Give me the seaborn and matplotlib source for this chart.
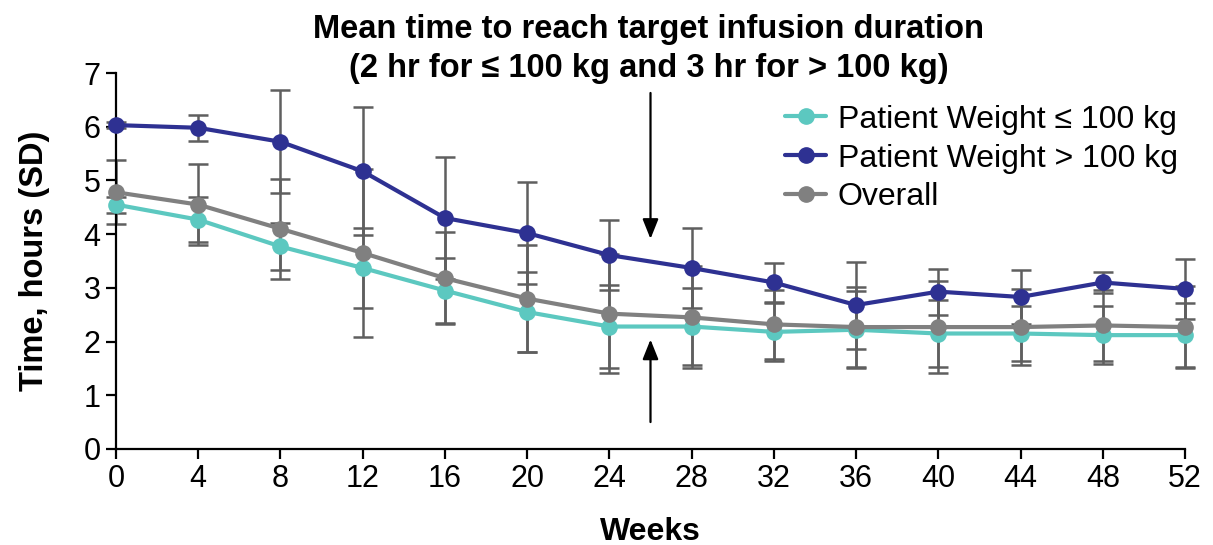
import numpy as np
import pandas as pd
import matplotlib
matplotlib.use("Agg")
import matplotlib.pyplot as plt
import seaborn as sns
from matplotlib.lines import Line2D

weeks = [0, 4, 8, 12, 16, 20, 24, 28, 32, 36, 40, 44, 48, 52]
series_names = ["Patient Weight \u2264 100 kg", "Patient Weight > 100 kg", "Overall"]
le100_mean = [4.55, 4.27, 3.77, 3.37, 2.95, 2.55, 2.28, 2.28, 2.18, 2.22, 2.15, 2.15, 2.12, 2.12]
le100_sd   = [0.15, 0.42, 0.44, 0.74, 0.60, 0.75, 0.78, 0.72, 0.54, 0.72, 0.62, 0.52, 0.54, 0.60]
gt100_mean = [6.03, 5.98, 5.72, 5.17, 4.30, 4.02, 3.61, 3.37, 3.10, 2.68, 2.93, 2.83, 3.10, 2.98]
gt100_sd   = [0.05, 0.24, 0.96, 1.19, 1.14, 0.95, 0.65, 0.75, 0.37, 0.81, 0.43, 0.51, 0.19, 0.56]
overall_mean = [4.78, 4.55, 4.10, 3.65, 3.18, 2.80, 2.52, 2.45, 2.32, 2.27, 2.27, 2.27, 2.30, 2.27]
overall_sd   = [0.60, 0.75, 0.93, 1.56, 0.86, 1.00, 1.11, 0.95, 0.64, 0.74, 0.85, 0.71, 0.66, 0.76]

title = "Mean time to reach target infusion duration\n(2 hr for \u2264 100 kg and 3 hr for > 100 kg)"
ylabel = "Time, hours (SD)"
xlabel = "Weeks"
arrow_week = 26
arrow_down = (6.68, 3.86)   # tail, head
arrow_up = (0.45, 2.09)

colors = {series_names[0]: "#5cc8c0", series_names[1]: "#2e3192", series_names[2]: "#808080"}

means = [le100_mean, gt100_mean, overall_mean]
sds = [le100_sd, gt100_sd, overall_sd]
df = pd.concat([
    pd.DataFrame({"week": weeks, "mean": m, "sd": s, "series": n})
    for n, m, s in zip(series_names, means, sds)
], ignore_index=True)

sns.set_theme(style="ticks")
plt.rcParams["font.family"] = ["Liberation Sans", "DejaVu Sans"]
plt.rcParams["text.color"] = "black"
plt.rcParams["axes.labelcolor"] = "black"
plt.rcParams["xtick.color"] = "black"
plt.rcParams["ytick.color"] = "black"

fig = plt.figure(figsize=(12.13, 5.45), dpi=100)
ax = fig.add_axes([116/1213, 1-449/545, (1185-116)/1213, (449-73)/545])

for name in series_names:
    sub = df[df["series"] == name]
    ax.errorbar(sub["week"], sub["mean"], yerr=sub["sd"], fmt="none",
                ecolor="#5f5f5f", elinewidth=1.8, capsize=7, capthick=1.8,
                zorder=2, clip_on=False)

sns.lineplot(data=df, x="week", y="mean", hue="series", hue_order=series_names,
             palette=colors, marker="o", markersize=12, markeredgewidth=0,
             linewidth=3, ax=ax, legend=False, zorder=3, clip_on=False)
for ln in ax.lines:
    ln.set_clip_on(False)

ax.set_xlim(0, 52)
ax.set_ylim(0, 7)
ax.set_xticks(weeks)
ax.set_yticks(range(0, 8))
ax.tick_params(axis="both", labelsize=22, length=7, width=1.6, color="black",
               labelcolor="black", pad=4)
for sp in ["top", "right"]:
    ax.spines[sp].set_visible(False)
for sp in ["left", "bottom"]:
    ax.spines[sp].set_linewidth(1.6)
    ax.spines[sp].set_color("black")

ax.set_xlabel(xlabel, fontsize=23, fontweight="bold", labelpad=16, color="black")
ax.set_ylabel(ylabel, fontsize=23.5, fontweight="bold", labelpad=24, color="black")

fig.text(0.535, 0.975, title, ha="center", va="top", fontsize=23.5, fontweight="bold",
         linespacing=1.35, color="black",
         family=["Liberation Sans Narrow", "Liberation Sans", "DejaVu Sans"])

ax.annotate("", xy=(arrow_week, arrow_down[1]), xytext=(arrow_week, arrow_down[0]),
            arrowprops=dict(arrowstyle="-|>,head_length=1.0,head_width=0.4", color="black", lw=1.6),
            annotation_clip=False)
ax.annotate("", xy=(arrow_week, arrow_up[1]), xytext=(arrow_week, arrow_up[0]),
            arrowprops=dict(arrowstyle="-|>,head_length=1.0,head_width=0.4", color="black", lw=1.6),
            annotation_clip=False)

handles = [Line2D([0], [0], color=colors[n], lw=3, marker="o", markersize=11) for n in series_names]
leg = ax.legend(handles, series_names, loc="upper right", bbox_to_anchor=(1.005, 0.95),
                frameon=False, fontsize=23, handlelength=1.3, handletextpad=0.35,
                labelspacing=0.28, borderaxespad=0.0)
for t in leg.get_texts():
    t.set_color("black")

fig.savefig("out.png", dpi=100)
